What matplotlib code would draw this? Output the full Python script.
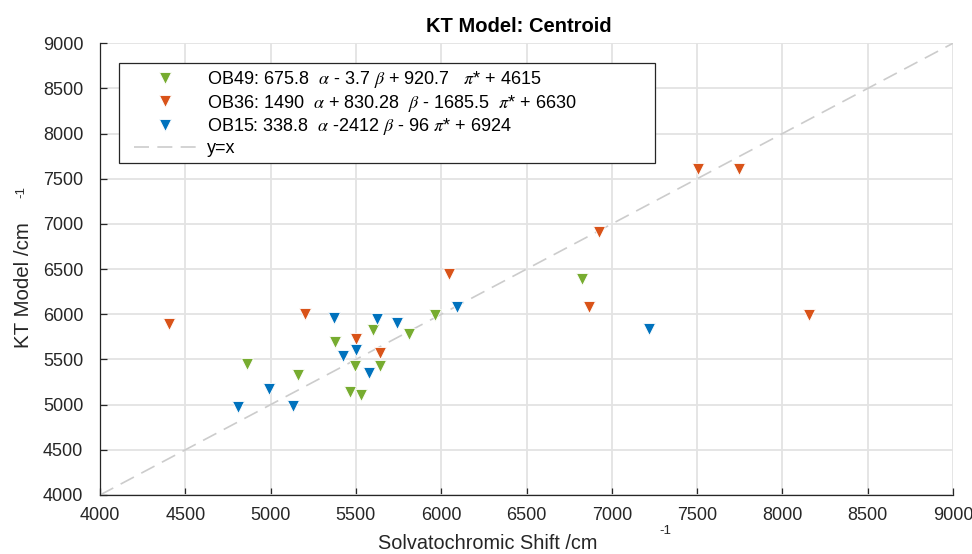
import numpy as np
import matplotlib
matplotlib.use("Agg")
import matplotlib.pyplot as plt
from matplotlib.lines import Line2D
from matplotlib.legend_handler import HandlerLine2D

# Datos (cm^-1)
ob49_x = [4859, 5158, 5377, 5465, 5528, 5492, 5598, 5641, 5809, 5965, 6823]
ob49_y = [5454, 5325, 5692, 5140, 5104, 5424, 5821, 5424, 5785, 5987, 6392]
ob36_x = [4404, 5203, 5500, 5643, 6046, 6868, 6927, 7507, 7743, 8156]
ob36_y = [5898, 5998, 5722, 5571, 6447, 6086, 6915, 7613, 7613, 5987]
ob15_x = [4809, 4993, 5133, 5372, 5422, 5500, 5578, 5625, 5738, 6094, 7220]
ob15_y = [4975, 5178, 4986, 5961, 5542, 5608, 5354, 5950, 5906, 6080, 5832]

labels = [
    r"OB49: 675.8  $\alpha$ - 3.7 $\beta$ + 920.7   $\pi$* + 4615",
    r"OB36: 1490  $\alpha$ + 830.28  $\beta$ - 1685.5  $\pi$* + 6630",
    r"OB15: 338.8  $\alpha$ -2412 $\beta$ - 96 $\pi$* + 6924",
]
colors = ["#77AC30", "#D95319", "#0072BD"]
lims = [4000, 9000]
ticks = np.arange(4000, 9001, 500)

plt.rcParams["font.family"] = ["Liberation Sans", "DejaVu Sans"]
plt.rcParams["mathtext.fontset"] = "stix"

fig = plt.figure(figsize=(9.72, 5.54), dpi=100)
ax = fig.add_axes([0.1029, 0.1065, 0.8776, 0.8155])

series = [(ob49_x, ob49_y), (ob36_x, ob36_y), (ob15_x, ob15_y)]
for (x, y), c, lab in zip(series, colors, labels):
    ax.plot(x, y, linestyle="none", marker="v", markersize=8.5,
            markerfacecolor=c, markeredgecolor="white", markeredgewidth=0.6,
            label=lab, zorder=3)
ax.plot(lims, lims, linestyle=(0, (9, 5)), color="#CCCCCC", linewidth=1.2,
        label="y=x", zorder=2)

ax.set_xlim(lims)
ax.set_ylim(lims)
ax.set_xticks(ticks)
ax.set_yticks(ticks)
ax.grid(True, color="#E3E3E3", linewidth=1.3)
ax.set_axisbelow(True)
for s in ["top", "right"]:
    ax.spines[s].set_visible(False)
for s in ["left", "bottom"]:
    ax.spines[s].set_color("#262626")
    ax.spines[s].set_linewidth(0.9)
ax.tick_params(direction="in", length=5, width=0.9, labelsize=13,
               colors="#262626", top=False, right=False)
ax.tick_params(axis="x", pad=9)
ax.tick_params(axis="y", pad=12)

ax.set_title("KT Model: Centroid", fontsize=14.5, fontweight="bold",
             x=0.491, pad=8)
ax.set_xlabel("Solvatochromic Shift /cm", fontsize=14.3, color="#262626")
ax.set_ylabel("KT Model /cm", fontsize=14.8, color="#262626")
ax.xaxis.set_label_coords(0.454, -0.086)
ax.yaxis.set_label_coords(-0.078, 0.465)
# superindices -1 tal como aparecen en el original
fig.text(665 / 972, 1 - 531 / 554, "-1", fontsize=9.5, color="#262626",
         ha="center", va="center")
fig.text(21 / 972, 1 - 192 / 554, "-1", fontsize=9.5, color="#262626",
         ha="center", va="center", rotation=90)

leg = ax.legend(loc="upper left", bbox_to_anchor=(0.0218, 0.957, 0.629, 0.0),
                mode="expand", borderaxespad=0, fancybox=False, framealpha=1,
                edgecolor="#262626", fontsize=13, handlelength=3.94,
                handletextpad=0.6, labelspacing=0.15, borderpad=0.35,
                handler_map={Line2D: HandlerLine2D(xpad=0.5)})
leg.get_frame().set_linewidth(0.9)

plt.savefig("out.png", dpi=100)
plt.close()
